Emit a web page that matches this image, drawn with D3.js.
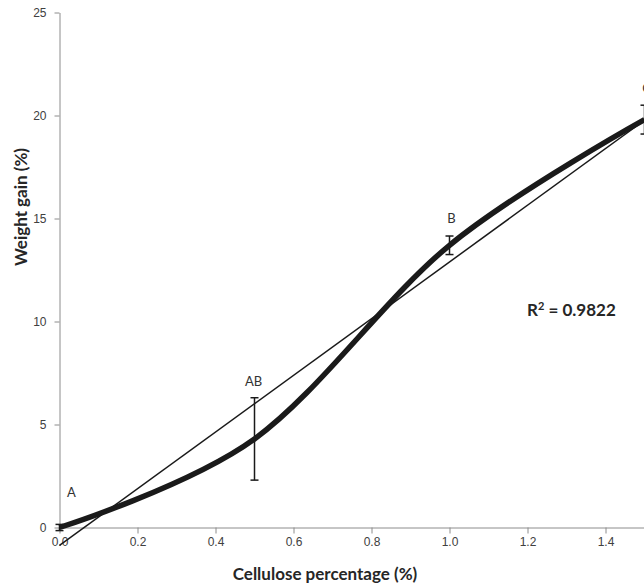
<!DOCTYPE html>
<html>
<head>
<meta charset="utf-8">
<script src="https://cdn.jsdelivr.net/npm/d3@7"></script>
<style>
  body { margin: 0; background: #fff; }
  svg { display: block; font-family: Lato, "Open Sans", sans-serif; }
</style>
</head>
<body>
<div id="chart"></div>
<script>
//cellulose percentage
const cellulose = [0, 0.5, 1, 1.5];
//weight gain means
const weightGain = [0, 4.3, 13.7, 19.8];
//error bar half lengths
const errors = [0.15, 2.0, 0.45, 0.7];
//letters from the test
const letters = ["A", "AB", "B", "C"];
//ticks
const xTicks = [0, 0.2, 0.4, 0.6, 0.8, 1, 1.2, 1.4];
const yTicks = [0, 5, 10, 15, 20, 25];
const rSquared = "0.9822";

//size
const width = 644;
const height = 588;

const points = cellulose.map((x, i) => ({
  x,
  y: weightGain[i],
  err: errors[i],
  label: letters[i],
}));

//scales
const x = d3.scaleLinear().domain([0, 1.6]).range([59.5, 683.5]);
const y = d3.scaleLinear().domain([0, 25]).range([527.5, 12.5]);

const svg = d3
  .select("#chart")
  .append("svg")
  .attr("width", width)
  .attr("height", height);

//x axis
svg
  .append("g")
  .attr("transform", `translate(0,${y(0)})`)
  .call(d3.axisBottom(x).tickValues(xTicks).tickSize(6).tickSizeOuter(0).tickPadding(4))
  .call((g) => {
    g.select(".domain").attr("stroke", "#8c8c8c");
    g.selectAll(".tick line").attr("stroke", "#8c8c8c");
    g.selectAll(".tick text").attr("fill", "#404040").attr("font-size", 12);
  });

//y axis
svg
  .append("g")
  .attr("transform", `translate(${x(0)},0)`)
  .call(d3.axisLeft(y).tickValues(yTicks).tickSize(5).tickSizeOuter(0).tickPadding(8))
  .call((g) => {
    g.select(".domain").attr("stroke", "#8c8c8c");
    g.selectAll(".tick line").attr("stroke", "#8c8c8c");
    g.selectAll(".tick text").attr("fill", "#404040").attr("font-size", 12);
  });

//linear trend line (least squares)
const mx = d3.mean(cellulose);
const my = d3.mean(weightGain);
const slope =
  d3.sum(points, (d) => (d.x - mx) * (d.y - my)) /
  d3.sum(points, (d) => (d.x - mx) ** 2);
const intercept = my - slope * mx;
const trendX = [0, 1.5];

svg
  .append("line")
  .attr("x1", x(trendX[0]))
  .attr("y1", y(intercept + slope * trendX[0]))
  .attr("x2", x(trendX[1]))
  .attr("y2", y(intercept + slope * trendX[1]))
  .attr("stroke", "#1a1a1a")
  .attr("stroke-width", 1.5);

//smoothed line
svg
  .append("path")
  .datum(points)
  .attr("fill", "none")
  .attr("stroke", "#1a1a1a")
  .attr("stroke-width", 5.5)
  .attr(
    "d",
    d3
      .line()
      .x((d) => x(d.x))
      .y((d) => y(d.y))
      .curve(d3.curveCatmullRom.alpha(0))
  );

//error bars
const bars = svg.append("g").attr("stroke", "#1a1a1a").attr("stroke-width", 1.5);
points.forEach((d) => {
  bars.append("line")
    .attr("x1", x(d.x)).attr("x2", x(d.x))
    .attr("y1", y(d.y - d.err)).attr("y2", y(d.y + d.err));
  [d.y - d.err, d.y + d.err].forEach((v) => {
    bars.append("line")
      .attr("x1", x(d.x) - 4).attr("x2", x(d.x) + 4)
      .attr("y1", y(v)).attr("y2", y(v));
  });
});

//letters
const labelOffset = [{ dx: 12, dy: -27 }, { dx: -1, dy: -12 }, { dx: 2, dy: -13 }, { dx: 2, dy: -12 }];
svg
  .append("g")
  .selectAll("text")
  .data(points)
  .join("text")
  .attr("x", (d, i) => x(d.x) + labelOffset[i].dx)
  .attr("y", (d, i) => y(d.y + d.err) + labelOffset[i].dy)
  .attr("text-anchor", "middle")
  .attr("fill", "#333")
  .attr("font-size", 13)
  .text((d) => d.label);

//R squared
svg
  .append("text")
  .attr("x", 527)
  .attr("y", 316)
  .attr("fill", "#262626")
  .attr("font-size", 17)
  .attr("font-weight", "bold")
  .html(`R<tspan font-size="11" dy="-6">2</tspan><tspan dy="6"> = ${rSquared}</tspan>`);

//axis titles
svg
  .append("text")
  .attr("x", 325)
  .attr("y", 580)
  .attr("text-anchor", "middle")
  .attr("fill", "#262626")
  .attr("font-size", 17)
  .attr("font-weight", "bold")
  .text("Cellulose percentage (%)");

svg
  .append("text")
  .attr("transform", `translate(27,${207}) rotate(-90)`)
  .attr("text-anchor", "middle")
  .attr("fill", "#262626")
  .attr("font-size", 17)
  .attr("font-weight", "bold")
  .text("Weight gain (%)");
</script>
</body>
</html>
